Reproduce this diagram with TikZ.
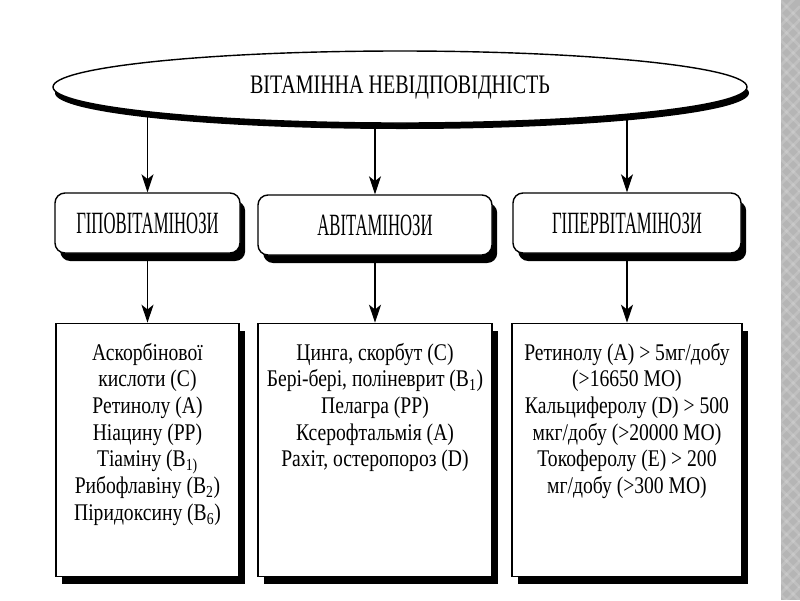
\documentclass[tikz,border=0pt]{standalone}
\usepackage{fontspec}
\setmainfont{Liberation Serif}[FakeStretch=0.82]
\newfontfamily\headfont{Liberation Serif}[FakeStretch=0.54]
\newfontfamily\titlefont{Liberation Serif}[FakeStretch=0.75]
\usetikzlibrary{positioning, arrows.meta, shapes.geometric, shadows, backgrounds}

\begin{document}
\begin{tikzpicture}[
    ell/.style={draw, ellipse, fill=white, line width=1pt, minimum width=17.35cm, minimum height=1.8cm, inner sep=0pt, font=\titlefont\fontsize{19}{19}\selectfont, general shadow={shadow xshift=0.05cm, shadow yshift=-0.15cm, fill=black}},
    head/.style={draw, rounded corners=0.25cm, fill=white, line width=1pt, minimum height=1.5cm, inner sep=0pt, font=\headfont\fontsize{22}{22}\selectfont, general shadow={shadow xshift=0.13cm, shadow yshift=-0.2cm, fill=black}},
    list/.style={draw, fill=white, line width=1pt, minimum height=6.325cm, inner sep=0pt, general shadow={shadow xshift=0.15cm, shadow yshift=-0.2cm, fill=black}},
    txt/.style={align=center, inner sep=0pt, font=\fontsize{17}{19}\selectfont},
    arr/.style={-{Stealth[length=0.45cm, width=0.3cm, inset=0.12cm]}, line width=0.8pt},
]
\useasboundingbox (0,0) rectangle (20,-15);

% Title
\node[ell] (vit) at (10,-2.175) {ВІТАМІННА НЕВІДПОВІДНІСТЬ};

% Three kinds
\node[head, minimum width=4.625cm] (hypo) at (3.6875,-5.575) {ГІПОВІТАМІНОЗИ};
\node[head, minimum width=5.85cm] (avit) at (9.375,-5.625) {АВІТАМІНОЗИ};
\node[head, minimum width=5.7cm] (hyper) at (15.675,-5.575) {ГІПЕРВІТАМІНОЗИ};

% Lists
\node[list, minimum width=4.575cm, below=1.725cm of hypo] (hypolist) {};
\node[list, minimum width=5.85cm, below=1.675cm of avit] (avitlist) {};
\node[list, minimum width=5.75cm, below=1.725cm of hyper] (hyperlist) {};

\node[txt, below=0.5cm of hypolist.north] (hypotxt) {Аскорбінової\\кислоти (C)\\Ретинолу (A)\\Ніацину (PP)\\Тіаміну (B\textsubscript{1)}\\Рибофлавіну (B\textsubscript{2})\\Піридоксину (B\textsubscript{6})};
\node[txt, below=0.5cm of avitlist.north] (avittxt) {Цинга, скорбут (C)\\Бері-бері, поліневрит (B\textsubscript{1})\\Пелагра (PP)\\Ксерофтальмія (A)\\Рахіт, остеропороз (D)};
\node[txt, below=0.5cm of hyperlist.north] (hypertxt) {Ретинолу (A) > 5мг/добу\\(>16650 МО)\\Кальциферолу (D) > 500\\мкг/добу (>20000 МО)\\Токоферолу (E) > 200\\мг/добу (>300 МО)};

% Arrows
\begin{scope}[on background layer]
\fill[white] (0,0) rectangle (20,-15);
\draw[arr] (vit.center -| hypo.north) -- (hypo.north);
\draw[arr] (vit.center -| avit.north) -- (avit.north);
\draw[arr] (vit.center -| hyper.north) -- (hyper.north);
\draw[arr] (hypo.south) -- (hypolist.north);
\draw[arr] (avit.south) -- (avitlist.north);
\draw[arr] (hyper.south) -- (hyperlist.north);
\end{scope}

% Side stripe
\fill[black!29] (19.525,0) rectangle (20,-15);
\begin{scope}
\clip (19.525,0) rectangle (20,-15);
\foreach \k in {0,...,46}
  \draw[white, opacity=0.15, line width=2pt] (19.5,-0.33*\k) -- ++(0.5,-0.5) (19.5,-0.33*\k) -- ++(0.5,0.5);
\end{scope}

\end{tikzpicture}
\end{document}
